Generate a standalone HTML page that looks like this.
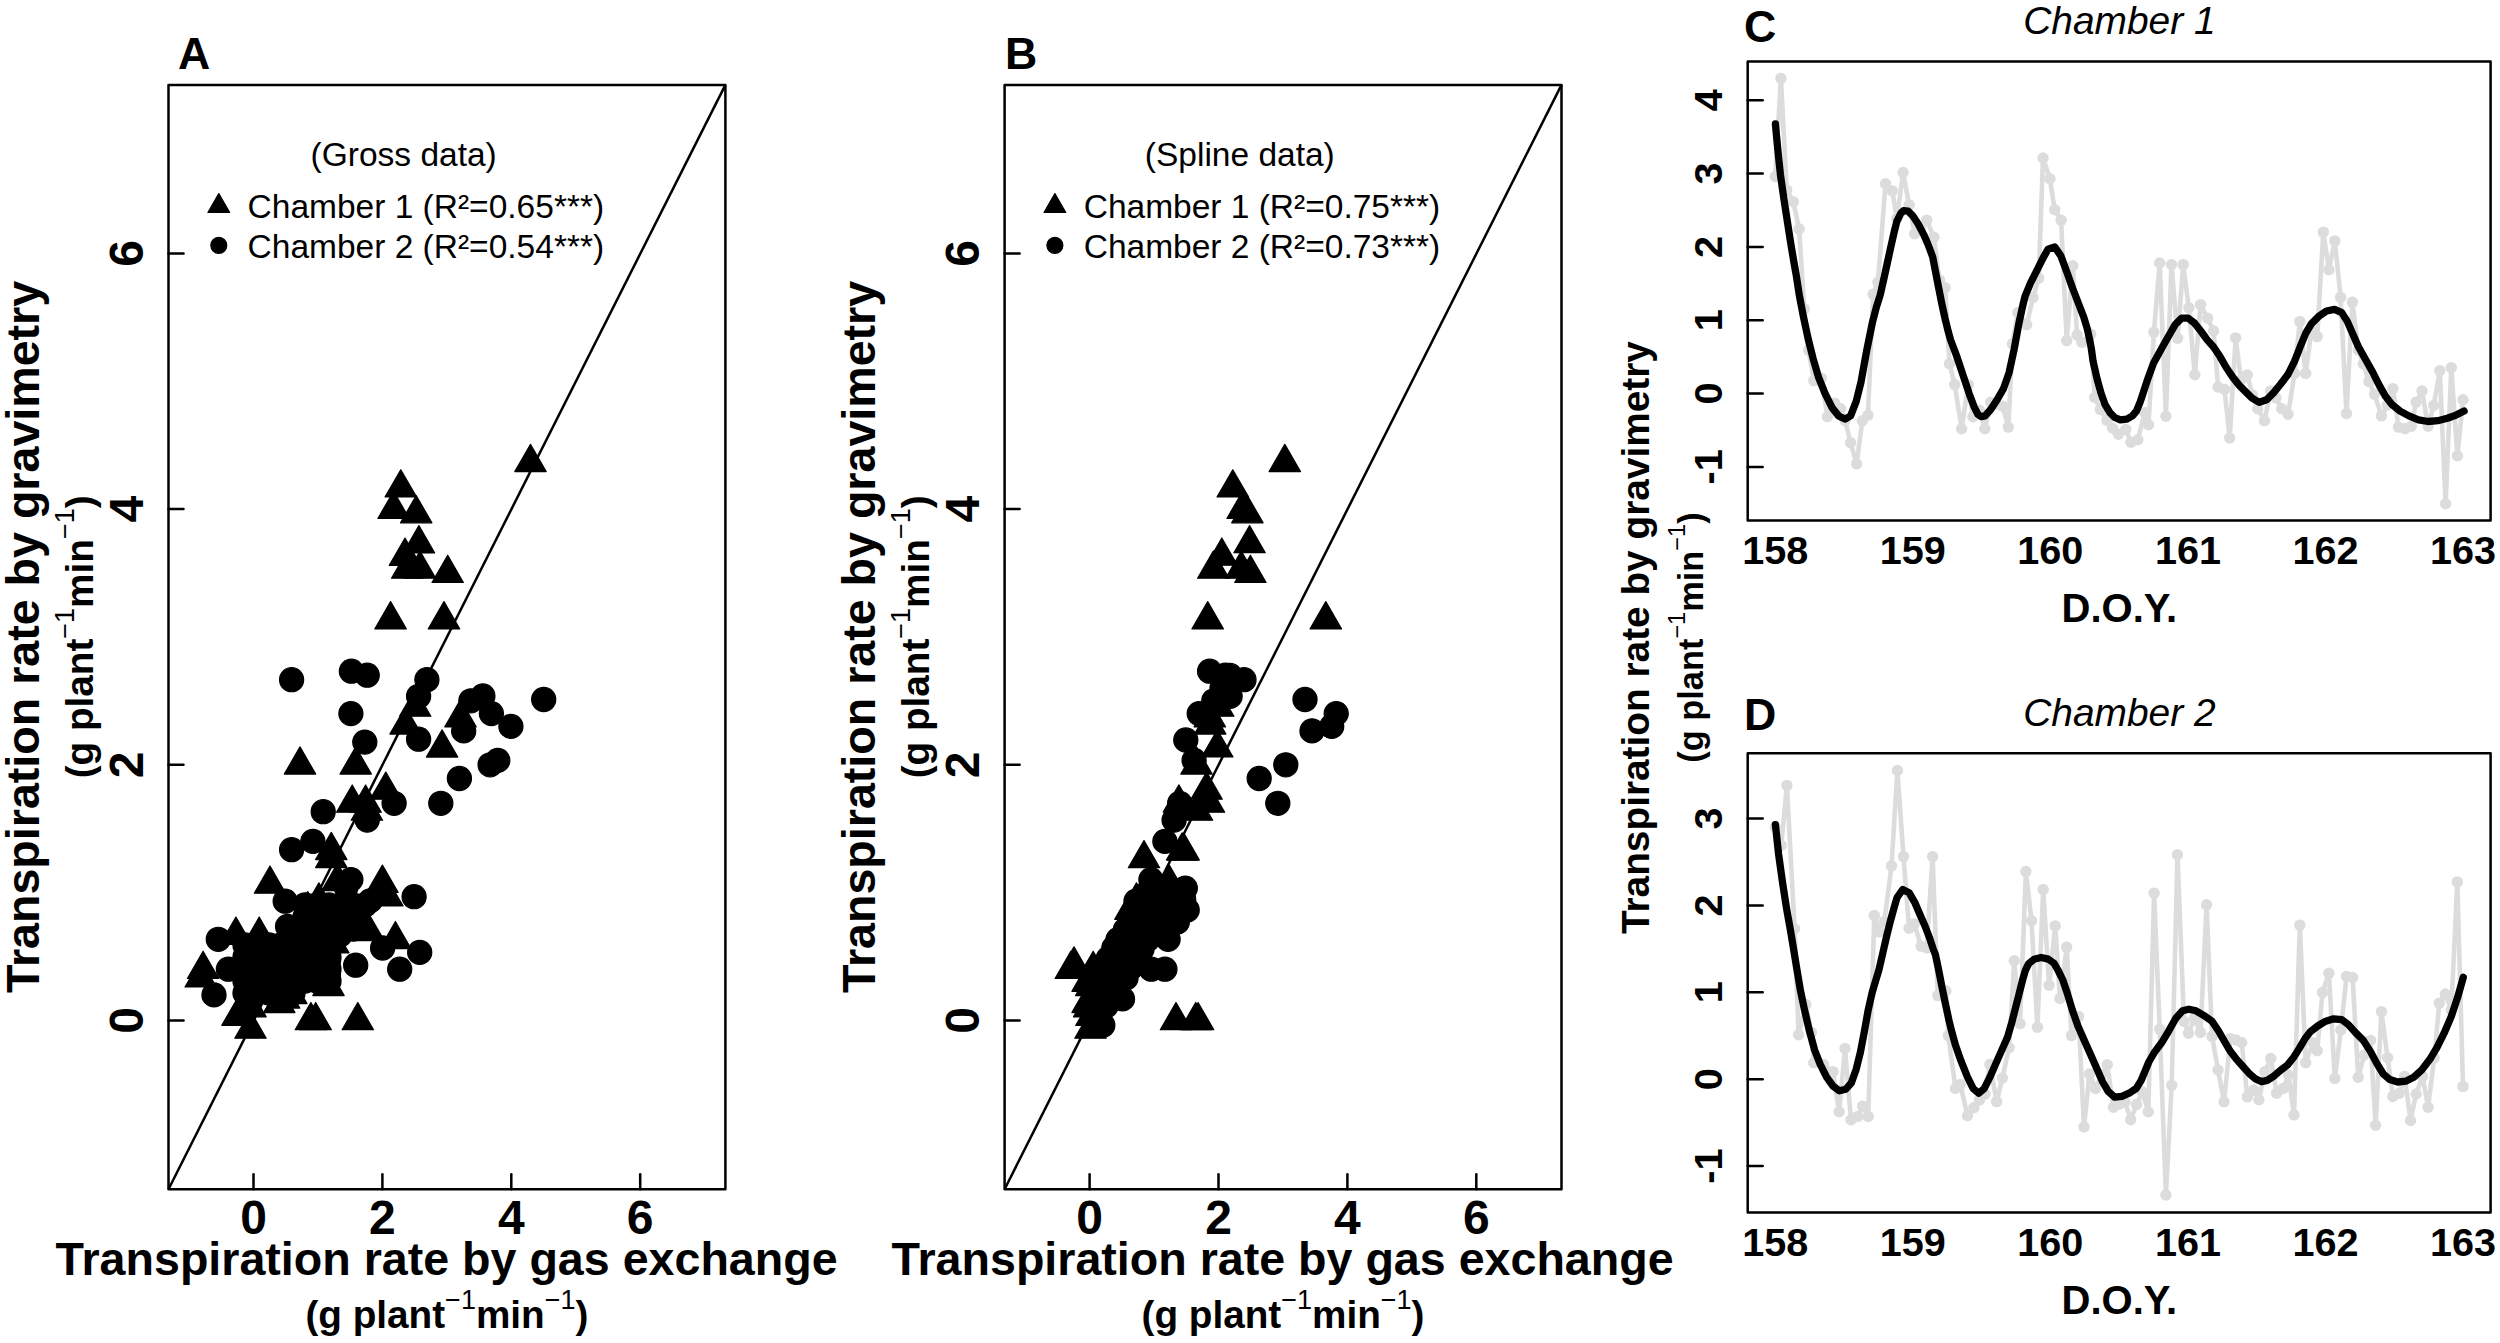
<!DOCTYPE html>
<html lang="en"><head><meta charset="utf-8"><title>Transpiration rate: gas exchange vs gravimetry</title>
<style>
html,body{margin:0;padding:0;background:#fff;}
body{width:2500px;height:1343px;overflow:hidden;}
svg{display:block;}
text{font-family:"Liberation Sans", sans-serif;fill:#000;}
.b{font-weight:bold;}
.sup{font-weight:normal;}
.pl{font-size:44.7px;}
.ax1{font-size:48px;}
.ax2{font-size:39.6px;}
.t1{font-size:46.6px;}
.doy{font-size:40px;}
.t2{font-size:38.7px;}
.t3{font-size:38.8px;}
.t4{font-size:34.4px;}
.lg{font-size:33.5px;}
.it{font-size:38.9px;font-style:italic;}
.fr{fill:none;stroke:#000;stroke-width:2.5;stroke-linejoin:round;}
.tk{stroke:#000;stroke-width:2.5;stroke-linecap:round;}
.ln{stroke:#000;stroke-width:2.5;stroke-linecap:butt;}
.pts{fill:#000;stroke:#000;stroke-width:1.2;stroke-linejoin:round;}
.gl{fill:none;stroke:#dcdcdc;stroke-width:4.6;stroke-linejoin:round;stroke-linecap:round;}
.gp{fill:#dcdcdc;}
.sp{fill:none;stroke:#000;stroke-width:7.3;stroke-linejoin:round;stroke-linecap:round;}
</style></head><body>
<svg width="2500" height="1343" viewBox="0 0 2500 1343">
<rect x="0" y="0" width="2500" height="1343" fill="#fff"/>
<g class="panel">
<g class="pts">
<circle cx="245" cy="945" r="12.05"/>
<circle cx="257" cy="945" r="12.05"/>
<circle cx="269" cy="945" r="12.05"/>
<circle cx="281" cy="945" r="12.05"/>
<circle cx="293" cy="945" r="12.05"/>
<circle cx="305" cy="945" r="12.05"/>
<circle cx="317" cy="945" r="12.05"/>
<circle cx="329" cy="945" r="12.05"/>
<circle cx="245" cy="957" r="12.05"/>
<circle cx="257" cy="957" r="12.05"/>
<circle cx="269" cy="957" r="12.05"/>
<circle cx="281" cy="957" r="12.05"/>
<circle cx="293" cy="957" r="12.05"/>
<circle cx="305" cy="957" r="12.05"/>
<circle cx="317" cy="957" r="12.05"/>
<circle cx="329" cy="957" r="12.05"/>
<circle cx="245" cy="969" r="12.05"/>
<circle cx="257" cy="969" r="12.05"/>
<circle cx="269" cy="969" r="12.05"/>
<circle cx="281" cy="969" r="12.05"/>
<circle cx="293" cy="969" r="12.05"/>
<circle cx="305" cy="969" r="12.05"/>
<circle cx="317" cy="969" r="12.05"/>
<circle cx="329" cy="969" r="12.05"/>
<circle cx="245" cy="981" r="12.05"/>
<circle cx="257" cy="981" r="12.05"/>
<circle cx="269" cy="981" r="12.05"/>
<circle cx="281" cy="981" r="12.05"/>
<circle cx="293" cy="981" r="12.05"/>
<circle cx="305" cy="981" r="12.05"/>
<circle cx="317" cy="981" r="12.05"/>
<circle cx="329" cy="981" r="12.05"/>
<circle cx="245" cy="993" r="12.05"/>
<circle cx="257" cy="993" r="12.05"/>
<circle cx="269" cy="993" r="12.05"/>
<circle cx="281" cy="993" r="12.05"/>
<circle cx="293" cy="993" r="12.05"/>
<circle cx="305" cy="905" r="12.05"/>
<circle cx="317" cy="905" r="12.05"/>
<circle cx="329" cy="905" r="12.05"/>
<circle cx="341" cy="905" r="12.05"/>
<circle cx="353" cy="905" r="12.05"/>
<circle cx="365" cy="905" r="12.05"/>
<circle cx="305" cy="917" r="12.05"/>
<circle cx="317" cy="917" r="12.05"/>
<circle cx="329" cy="917" r="12.05"/>
<circle cx="341" cy="917" r="12.05"/>
<circle cx="353" cy="917" r="12.05"/>
<circle cx="305" cy="929" r="12.05"/>
<circle cx="317" cy="929" r="12.05"/>
<circle cx="329" cy="929" r="12.05"/>
<circle cx="341" cy="929" r="12.05"/>
<circle cx="353" cy="929" r="12.05"/>
<circle cx="292" cy="935" r="12.05"/>
<circle cx="304" cy="935" r="12.05"/>
<circle cx="316" cy="935" r="12.05"/>
<circle cx="328" cy="935" r="12.05"/>
<circle cx="340" cy="935" r="12.05"/>
<circle cx="291.6" cy="679.7" r="12.05"/>
<circle cx="351.4" cy="671.2" r="12.05"/>
<circle cx="367.2" cy="675.2" r="12.05"/>
<circle cx="426.9" cy="679.7" r="12.05"/>
<circle cx="418.6" cy="696.3" r="12.05"/>
<circle cx="350.9" cy="713.6" r="12.05"/>
<circle cx="470.9" cy="700.8" r="12.05"/>
<circle cx="482.9" cy="696" r="12.05"/>
<circle cx="491.4" cy="713.6" r="12.05"/>
<circle cx="543.7" cy="699.5" r="12.05"/>
<circle cx="510.9" cy="726.4" r="12.05"/>
<circle cx="463.7" cy="730.9" r="12.05"/>
<circle cx="418.6" cy="739.2" r="12.05"/>
<circle cx="364.8" cy="742.1" r="12.05"/>
<circle cx="497.8" cy="760.4" r="12.05"/>
<circle cx="490.1" cy="764.8" r="12.05"/>
<circle cx="459.4" cy="778.5" r="12.05"/>
<circle cx="440.8" cy="803.3" r="12.05"/>
<circle cx="394.1" cy="803.3" r="12.05"/>
<circle cx="323.2" cy="811.7" r="12.05"/>
<circle cx="367.2" cy="820.1" r="12.05"/>
<circle cx="312.9" cy="841.4" r="12.05"/>
<circle cx="291.6" cy="849.7" r="12.05"/>
<circle cx="350.9" cy="879.6" r="12.05"/>
<circle cx="346" cy="886.8" r="12.05"/>
<circle cx="285.2" cy="901.2" r="12.05"/>
<circle cx="414.1" cy="896.7" r="12.05"/>
<circle cx="370.1" cy="900.9" r="12.05"/>
<circle cx="287.6" cy="926.5" r="12.05"/>
<circle cx="218.3" cy="939.3" r="12.05"/>
<circle cx="382.6" cy="948" r="12.05"/>
<circle cx="419.7" cy="952.4" r="12.05"/>
<circle cx="355.7" cy="965.2" r="12.05"/>
<circle cx="399.7" cy="969.2" r="12.05"/>
<circle cx="228.4" cy="969.2" r="12.05"/>
<circle cx="214" cy="994.9" r="12.05"/>
<circle cx="328.5" cy="960.4" r="12.05"/>
<circle cx="328.5" cy="974" r="12.05"/>
<polygon points="530.5,444.4 546.2,471.6 514.8,471.6"/>
<polygon points="400.8,469.7 416.5,496.9 385.1,496.9"/>
<polygon points="393.6,491.2 409.3,518.5 377.9,518.5"/>
<polygon points="416.2,495.6 431.9,522.8 400.5,522.8"/>
<polygon points="418.9,525.6 434.6,552.9 403.2,552.9"/>
<polygon points="405,538.1 420.7,565.4 389.3,565.4"/>
<polygon points="407.2,551 422.9,578.2 391.5,578.2"/>
<polygon points="420,551 435.7,578.2 404.3,578.2"/>
<polygon points="447.7,555.2 463.4,582.5 432,582.5"/>
<polygon points="390.6,601.6 406.3,628.9 374.9,628.9"/>
<polygon points="444,601.6 459.7,628.9 428.3,628.9"/>
<polygon points="415.2,689 430.9,716.2 399.5,716.2"/>
<polygon points="405.6,706.9 421.3,734.1 389.9,734.1"/>
<polygon points="460.5,699.6 476.2,726.9 444.8,726.9"/>
<polygon points="442.1,729.9 457.8,757.1 426.4,757.1"/>
<polygon points="300,746.9 315.7,774.1 284.3,774.1"/>
<polygon points="355.7,746.9 371.4,774.1 340,774.1"/>
<polygon points="385.8,772 401.5,799.2 370.1,799.2"/>
<polygon points="352.2,785 367.9,812.2 336.5,812.2"/>
<polygon points="365.6,785 381.3,812.2 349.9,812.2"/>
<polygon points="366.9,793 382.6,820.2 351.2,820.2"/>
<polygon points="331.3,832.4 347,859.6 315.6,859.6"/>
<polygon points="270,866 285.7,893.2 254.3,893.2"/>
<polygon points="382.4,865.1 398.1,892.4 366.7,892.4"/>
<polygon points="387.4,878.8 403.1,906 371.7,906"/>
<polygon points="395.4,921.5 411.1,948.7 379.7,948.7"/>
<polygon points="235.9,917.1 251.6,944.4 220.2,944.4"/>
<polygon points="259.2,917.1 274.9,944.4 243.5,944.4"/>
<polygon points="203.1,951.2 218.8,978.5 187.4,978.5"/>
<polygon points="200.7,959.8 216.4,987 185,987"/>
<polygon points="357.8,1002.5 373.5,1029.7 342.1,1029.7"/>
<polygon points="310.9,1002.5 326.6,1029.7 295.2,1029.7"/>
<polygon points="315.7,1002.5 331.4,1029.7 300,1029.7"/>
<polygon points="328.5,968.4 344.2,995.6 312.8,995.6"/>
<polygon points="250.5,1010.9 266.2,1038.2 234.8,1038.2"/>
<polygon points="237.5,998.1 253.2,1025.4 221.8,1025.4"/>
<polygon points="250.5,989.6 266.2,1016.9 234.8,1016.9"/>
<polygon points="279.3,985.4 295,1012.6 263.6,1012.6"/>
<polygon points="284.1,980.9 299.8,1008.1 268.4,1008.1"/>
<polygon points="291.3,976.4 307,1003.6 275.6,1003.6"/>
<polygon points="292.9,959.8 308.6,987 277.2,987"/>
<polygon points="333.3,925.6 349,952.9 317.6,952.9"/>
<polygon points="368.5,913.4 384.2,940.6 352.8,940.6"/>
<polygon points="361.6,908.9 377.3,936.1 345.9,936.1"/>
<polygon points="331.3,840.4 347,867.6 315.6,867.6"/>
<polygon points="318.9,882.8 334.6,910 303.2,910"/>
<polygon points="307.7,891.6 323.4,918.8 292,918.8"/>
<polygon points="349,898.8 364.7,926 333.3,926"/>
<polygon points="337.5,863.4 353.2,890.6 321.8,890.6"/>
</g>
<line class="ln" x1="168.5" y1="1189.2" x2="725.4" y2="84.9"/>
<rect class="fr" x="168.5" y="84.9" width="556.9" height="1104.3"/>
<line class="tk" x1="253.5" y1="1189.2" x2="253.5" y2="1174.2"/>
<line class="tk" x1="168.5" y1="1020.5" x2="183.5" y2="1020.5"/>
<text class="b ax1" x="253.5" y="1233.6" text-anchor="middle">0</text>
<text class="b ax1" transform="translate(142.8,1020.5) rotate(-90)" text-anchor="middle">0</text>
<line class="tk" x1="382.4" y1="1189.2" x2="382.4" y2="1174.2"/>
<line class="tk" x1="168.5" y1="764.8" x2="183.5" y2="764.8"/>
<text class="b ax1" x="382.4" y="1233.6" text-anchor="middle">2</text>
<text class="b ax1" transform="translate(142.8,764.8) rotate(-90)" text-anchor="middle">2</text>
<line class="tk" x1="511.3" y1="1189.2" x2="511.3" y2="1174.2"/>
<line class="tk" x1="168.5" y1="509.1" x2="183.5" y2="509.1"/>
<text class="b ax1" x="511.3" y="1233.6" text-anchor="middle">4</text>
<text class="b ax1" transform="translate(142.8,509.1) rotate(-90)" text-anchor="middle">4</text>
<line class="tk" x1="640.2" y1="1189.2" x2="640.2" y2="1174.2"/>
<line class="tk" x1="168.5" y1="253.4" x2="183.5" y2="253.4"/>
<text class="b ax1" x="640.2" y="1233.6" text-anchor="middle">6</text>
<text class="b ax1" transform="translate(142.8,253.4) rotate(-90)" text-anchor="middle">6</text>
<text class="b t1" x="446.6" y="1274.9" text-anchor="middle">Transpiration rate by gas exchange</text>
<text class="b t2" x="446.9" y="1327.8" text-anchor="middle">(g plant<tspan class="sup" font-size="27" dy="-19">−1</tspan><tspan dy="19">min</tspan><tspan class="sup" font-size="27" dy="-19">−1</tspan><tspan dy="19">)</tspan></text>
<text class="b t1" transform="translate(39.3,636.9) rotate(-90)" text-anchor="middle">Transpiration rate by gravimetry</text>
<text class="b t2" transform="translate(92.5,636.9) rotate(-90)" text-anchor="middle">(g plant<tspan class="sup" font-size="27" dy="-19">−1</tspan><tspan dy="19">min</tspan><tspan class="sup" font-size="27" dy="-19">−1</tspan><tspan dy="19">)</tspan></text>
<text class="b pl" x="178" y="68.8">A</text>
<text class="lg" x="403.7" y="165.6" text-anchor="middle">(Gross data)</text>
<polygon class="pts" points="218.8,193.6 229.7,212.5 207.9,212.5"/>
<circle class="pts" cx="218.8" cy="245.3" r="8.0"/>
<text class="lg" x="247.6" y="217.7">Chamber 1 (R²=0.65***)</text>
<text class="lg" x="247.6" y="257.6">Chamber 2 (R²=0.54***)</text>
</g>
<g class="panel">
<g class="pts">
<circle cx="1092" cy="1006" r="12.05"/>
<circle cx="1106" cy="1006" r="12.05"/>
<circle cx="1097.7" cy="996.5" r="12.05"/>
<circle cx="1111.7" cy="996.5" r="12.05"/>
<circle cx="1103.3" cy="987" r="12.05"/>
<circle cx="1117.3" cy="987" r="12.05"/>
<circle cx="1109" cy="977.5" r="12.05"/>
<circle cx="1123" cy="977.5" r="12.05"/>
<circle cx="1102.7" cy="968" r="12.05"/>
<circle cx="1116.7" cy="968" r="12.05"/>
<circle cx="1130.7" cy="968" r="12.05"/>
<circle cx="1108.3" cy="958.5" r="12.05"/>
<circle cx="1122.3" cy="958.5" r="12.05"/>
<circle cx="1136.3" cy="958.5" r="12.05"/>
<circle cx="1114" cy="949" r="12.05"/>
<circle cx="1128" cy="949" r="12.05"/>
<circle cx="1142" cy="949" r="12.05"/>
<circle cx="1119.7" cy="939.5" r="12.05"/>
<circle cx="1133.7" cy="939.5" r="12.05"/>
<circle cx="1147.7" cy="939.5" r="12.05"/>
<circle cx="1125.3" cy="930" r="12.05"/>
<circle cx="1139.3" cy="930" r="12.05"/>
<circle cx="1153.3" cy="930" r="12.05"/>
<circle cx="1131" cy="920.5" r="12.05"/>
<circle cx="1145" cy="920.5" r="12.05"/>
<circle cx="1159" cy="920.5" r="12.05"/>
<circle cx="1136.7" cy="911" r="12.05"/>
<circle cx="1150.7" cy="911" r="12.05"/>
<circle cx="1164.7" cy="911" r="12.05"/>
<circle cx="1142.3" cy="901.5" r="12.05"/>
<circle cx="1156.3" cy="901.5" r="12.05"/>
<circle cx="1170.3" cy="901.5" r="12.05"/>
<circle cx="1148" cy="892" r="12.05"/>
<circle cx="1162" cy="892" r="12.05"/>
<circle cx="1176" cy="892" r="12.05"/>
<circle cx="1209.6" cy="671.2" r="12.05"/>
<circle cx="1225.3" cy="675.2" r="12.05"/>
<circle cx="1230" cy="675.5" r="12.05"/>
<circle cx="1244" cy="679.7" r="12.05"/>
<circle cx="1230.1" cy="696.3" r="12.05"/>
<circle cx="1213.8" cy="700.8" r="12.05"/>
<circle cx="1199.2" cy="713.6" r="12.05"/>
<circle cx="1222" cy="688" r="12.05"/>
<circle cx="1185.8" cy="740" r="12.05"/>
<circle cx="1194.1" cy="760.4" r="12.05"/>
<circle cx="1305" cy="699.5" r="12.05"/>
<circle cx="1336.2" cy="713.6" r="12.05"/>
<circle cx="1331.7" cy="726.4" r="12.05"/>
<circle cx="1312" cy="730.9" r="12.05"/>
<circle cx="1285.8" cy="764.8" r="12.05"/>
<circle cx="1259.2" cy="778.5" r="12.05"/>
<circle cx="1277.8" cy="803.3" r="12.05"/>
<circle cx="1179.7" cy="803.3" r="12.05"/>
<circle cx="1174.1" cy="820.1" r="12.05"/>
<circle cx="1164.9" cy="841.4" r="12.05"/>
<circle cx="1185.3" cy="888.1" r="12.05"/>
<circle cx="1150.9" cy="879.6" r="12.05"/>
<circle cx="1183.7" cy="899.6" r="12.05"/>
<circle cx="1187.2" cy="910" r="12.05"/>
<circle cx="1177.3" cy="922" r="12.05"/>
<circle cx="1168.1" cy="939.3" r="12.05"/>
<circle cx="1136" cy="901.2" r="12.05"/>
<circle cx="1164.9" cy="969.2" r="12.05"/>
<circle cx="1151.3" cy="969.2" r="12.05"/>
<circle cx="1122.5" cy="998.9" r="12.05"/>
<circle cx="1102.8" cy="1025.3" r="12.05"/>
<circle cx="1118" cy="939.6" r="12.05"/>
<circle cx="1114" cy="947.6" r="12.05"/>
<circle cx="1126" cy="978" r="12.05"/>
<polygon points="1284.8,444.4 1300.5,471.6 1269.1,471.6"/>
<polygon points="1232.8,469.7 1248.5,496.9 1217.1,496.9"/>
<polygon points="1242.6,491.2 1258.3,518.5 1226.9,518.5"/>
<polygon points="1247.4,495.6 1263.1,522.8 1231.7,522.8"/>
<polygon points="1249.6,525.5 1265.3,552.7 1233.9,552.7"/>
<polygon points="1221.8,538 1237.5,565.2 1206.1,565.2"/>
<polygon points="1213.3,551 1229,578.2 1197.6,578.2"/>
<polygon points="1241.3,551 1257,578.2 1225.6,578.2"/>
<polygon points="1250.4,555.2 1266.1,582.5 1234.7,582.5"/>
<polygon points="1207.7,601.6 1223.4,628.9 1192,628.9"/>
<polygon points="1325.8,601.6 1341.5,628.9 1310.1,628.9"/>
<polygon points="1218.2,689 1233.9,716.2 1202.5,716.2"/>
<polygon points="1209.8,699.6 1225.5,726.9 1194.1,726.9"/>
<polygon points="1210.2,706.9 1225.9,734.1 1194.5,734.1"/>
<polygon points="1217.3,729.8 1233,757 1201.6,757"/>
<polygon points="1196.5,746.9 1212.2,774.1 1180.8,774.1"/>
<polygon points="1206.6,772 1222.3,799.2 1190.9,799.2"/>
<polygon points="1209,785 1224.7,812.2 1193.3,812.2"/>
<polygon points="1197,793 1212.7,820.2 1181.3,820.2"/>
<polygon points="1178.9,784.9 1194.6,812.1 1163.2,812.1"/>
<polygon points="1144,840.5 1159.7,867.7 1128.3,867.7"/>
<polygon points="1182.1,832.9 1197.8,860.1 1166.4,860.1"/>
<polygon points="1183.7,832.9 1199.4,860.1 1168,860.1"/>
<polygon points="1169.3,865.1 1185,892.4 1153.6,892.4"/>
<polygon points="1136.5,882.8 1152.2,910 1120.8,910"/>
<polygon points="1130.4,892.1 1146.1,919.3 1114.7,919.3"/>
<polygon points="1074,946.8 1089.7,974 1058.3,974"/>
<polygon points="1070.8,951.2 1086.5,978.5 1055.1,978.5"/>
<polygon points="1093.2,951.2 1108.9,978.5 1077.5,978.5"/>
<polygon points="1087.6,964.1 1103.3,991.3 1071.9,991.3"/>
<polygon points="1091.2,968.4 1106.9,995.6 1075.5,995.6"/>
<polygon points="1087.6,985.4 1103.3,1012.6 1071.9,1012.6"/>
<polygon points="1089.2,989.6 1104.9,1016.9 1073.5,1016.9"/>
<polygon points="1091.5,998.1 1107.2,1025.4 1075.8,1025.4"/>
<polygon points="1090.5,1010.9 1106.2,1038.2 1074.8,1038.2"/>
<polygon points="1176,1002.5 1191.7,1029.7 1160.3,1029.7"/>
<polygon points="1195.7,1002.5 1211.4,1029.7 1180,1029.7"/>
<polygon points="1198.1,1002.5 1213.8,1029.7 1182.4,1029.7"/>
</g>
<line class="ln" x1="1004.6" y1="1189.2" x2="1561.5" y2="84.9"/>
<rect class="fr" x="1004.6" y="84.9" width="556.9" height="1104.3"/>
<line class="tk" x1="1089.6" y1="1189.2" x2="1089.6" y2="1174.2"/>
<line class="tk" x1="1004.6" y1="1020.5" x2="1019.6" y2="1020.5"/>
<text class="b ax1" x="1089.6" y="1233.6" text-anchor="middle">0</text>
<text class="b ax1" transform="translate(978.9,1020.5) rotate(-90)" text-anchor="middle">0</text>
<line class="tk" x1="1218.5" y1="1189.2" x2="1218.5" y2="1174.2"/>
<line class="tk" x1="1004.6" y1="764.8" x2="1019.6" y2="764.8"/>
<text class="b ax1" x="1218.5" y="1233.6" text-anchor="middle">2</text>
<text class="b ax1" transform="translate(978.9,764.8) rotate(-90)" text-anchor="middle">2</text>
<line class="tk" x1="1347.4" y1="1189.2" x2="1347.4" y2="1174.2"/>
<line class="tk" x1="1004.6" y1="509.1" x2="1019.6" y2="509.1"/>
<text class="b ax1" x="1347.4" y="1233.6" text-anchor="middle">4</text>
<text class="b ax1" transform="translate(978.9,509.1) rotate(-90)" text-anchor="middle">4</text>
<line class="tk" x1="1476.3" y1="1189.2" x2="1476.3" y2="1174.2"/>
<line class="tk" x1="1004.6" y1="253.4" x2="1019.6" y2="253.4"/>
<text class="b ax1" x="1476.3" y="1233.6" text-anchor="middle">6</text>
<text class="b ax1" transform="translate(978.9,253.4) rotate(-90)" text-anchor="middle">6</text>
<text class="b t1" x="1282.6" y="1274.9" text-anchor="middle">Transpiration rate by gas exchange</text>
<text class="b t2" x="1283" y="1327.8" text-anchor="middle">(g plant<tspan class="sup" font-size="27" dy="-19">−1</tspan><tspan dy="19">min</tspan><tspan class="sup" font-size="27" dy="-19">−1</tspan><tspan dy="19">)</tspan></text>
<text class="b t1" transform="translate(875.4,636.9) rotate(-90)" text-anchor="middle">Transpiration rate by gravimetry</text>
<text class="b t2" transform="translate(928.6,636.9) rotate(-90)" text-anchor="middle">(g plant<tspan class="sup" font-size="27" dy="-19">−1</tspan><tspan dy="19">min</tspan><tspan class="sup" font-size="27" dy="-19">−1</tspan><tspan dy="19">)</tspan></text>
<text class="b pl" x="1004.9" y="68.8">B</text>
<text class="lg" x="1239.8" y="165.6" text-anchor="middle">(Spline data)</text>
<polygon class="pts" points="1054.9,193.6 1065.8,212.5 1044,212.5"/>
<circle class="pts" cx="1054.9" cy="245.3" r="8.0"/>
<text class="lg" x="1083.7" y="217.7">Chamber 1 (R²=0.75***)</text>
<text class="lg" x="1083.7" y="257.6">Chamber 2 (R²=0.73***)</text>
</g>
<g class="panel">
<polyline class="gl" points="1775.2,176.5 1780.9,78.4 1786.7,190 1793.3,201.7 1799.1,228.9 1804.3,308.9 1808.6,350.2 1813.8,380.6 1821.4,378.2 1827.4,416.7 1834.6,403.1 1840.6,408.7 1845,420.5 1850.6,442.7 1856.6,463.9 1862.3,420.7 1868,415.1 1873.1,294.2 1877.9,282.2 1885.5,183.7 1892.3,190.9 1896.9,218.5 1903.1,172.5 1909.1,204.9 1914.7,233.7 1920.7,228 1926.7,220.1 1933.9,237.3 1939.5,280 1945.1,287.8 1949.5,363.8 1954.7,384.6 1961.6,428.7 1968.3,384.6 1972.9,416.7 1979.5,410.3 1984.8,428.7 1990.7,402.3 1996.7,404 2002.7,406.3 2008.3,427.1 2012.5,343.8 2017.9,312.6 2026.7,324.6 2033.1,297.4 2038.7,278.2 2043,158 2049.9,178.8 2054.7,209.7 2061.1,220.1 2066.7,340.6 2072.8,265.7 2077.1,335 2081.9,342.2 2090.7,334.2 2094.7,397.4 2100.3,409.5 2107,420.3 2112.5,428 2118.5,434.3 2125.8,429.5 2131,442.3 2137.8,439.7 2144.8,412.7 2148.5,424.7 2153.9,332.1 2159.7,263 2165.9,416.2 2171.5,264.6 2177.6,338.2 2183.2,264.6 2188.8,307.8 2194.8,374.7 2200.5,304.6 2207.6,318.2 2213.6,331 2218.1,387 2224.5,389.4 2229.7,437.9 2235.6,337.9 2241,380 2247.3,375 2252.5,395 2257.7,408.7 2264.5,420.7 2270.5,391 2276,398 2281.7,408.7 2288.1,414.3 2294.5,373.4 2299.8,321.4 2305.7,373.4 2311.5,330 2317.2,336.6 2323.3,232.1 2328.9,269.7 2334.8,240.9 2340.6,297.4 2346.5,413.5 2352.4,302.2 2358.3,350 2363.3,363.8 2368.9,381.4 2374.5,394.2 2381.4,415.9 2387.2,405 2392.9,388.6 2398.5,427.1 2404.9,428.7 2411.3,426.3 2416.1,402.3 2422,391 2428.1,426.3 2433.7,405.5 2439.8,370.6 2445.6,503.8 2451.3,367.8 2457.4,455.9 2463,399.8"/>
<g class="gp">
<circle cx="1775.2" cy="176.5" r="5.7"/>
<circle cx="1780.9" cy="78.4" r="5.7"/>
<circle cx="1786.7" cy="190" r="5.7"/>
<circle cx="1793.3" cy="201.7" r="5.7"/>
<circle cx="1799.1" cy="228.9" r="5.7"/>
<circle cx="1804.3" cy="308.9" r="5.7"/>
<circle cx="1808.6" cy="350.2" r="5.7"/>
<circle cx="1813.8" cy="380.6" r="5.7"/>
<circle cx="1821.4" cy="378.2" r="5.7"/>
<circle cx="1827.4" cy="416.7" r="5.7"/>
<circle cx="1834.6" cy="403.1" r="5.7"/>
<circle cx="1840.6" cy="408.7" r="5.7"/>
<circle cx="1845" cy="420.5" r="5.7"/>
<circle cx="1850.6" cy="442.7" r="5.7"/>
<circle cx="1856.6" cy="463.9" r="5.7"/>
<circle cx="1862.3" cy="420.7" r="5.7"/>
<circle cx="1868" cy="415.1" r="5.7"/>
<circle cx="1873.1" cy="294.2" r="5.7"/>
<circle cx="1877.9" cy="282.2" r="5.7"/>
<circle cx="1885.5" cy="183.7" r="5.7"/>
<circle cx="1892.3" cy="190.9" r="5.7"/>
<circle cx="1896.9" cy="218.5" r="5.7"/>
<circle cx="1903.1" cy="172.5" r="5.7"/>
<circle cx="1909.1" cy="204.9" r="5.7"/>
<circle cx="1914.7" cy="233.7" r="5.7"/>
<circle cx="1920.7" cy="228" r="5.7"/>
<circle cx="1926.7" cy="220.1" r="5.7"/>
<circle cx="1933.9" cy="237.3" r="5.7"/>
<circle cx="1939.5" cy="280" r="5.7"/>
<circle cx="1945.1" cy="287.8" r="5.7"/>
<circle cx="1949.5" cy="363.8" r="5.7"/>
<circle cx="1954.7" cy="384.6" r="5.7"/>
<circle cx="1961.6" cy="428.7" r="5.7"/>
<circle cx="1968.3" cy="384.6" r="5.7"/>
<circle cx="1972.9" cy="416.7" r="5.7"/>
<circle cx="1979.5" cy="410.3" r="5.7"/>
<circle cx="1984.8" cy="428.7" r="5.7"/>
<circle cx="1990.7" cy="402.3" r="5.7"/>
<circle cx="1996.7" cy="404" r="5.7"/>
<circle cx="2002.7" cy="406.3" r="5.7"/>
<circle cx="2008.3" cy="427.1" r="5.7"/>
<circle cx="2012.5" cy="343.8" r="5.7"/>
<circle cx="2017.9" cy="312.6" r="5.7"/>
<circle cx="2026.7" cy="324.6" r="5.7"/>
<circle cx="2033.1" cy="297.4" r="5.7"/>
<circle cx="2038.7" cy="278.2" r="5.7"/>
<circle cx="2043" cy="158" r="5.7"/>
<circle cx="2049.9" cy="178.8" r="5.7"/>
<circle cx="2054.7" cy="209.7" r="5.7"/>
<circle cx="2061.1" cy="220.1" r="5.7"/>
<circle cx="2066.7" cy="340.6" r="5.7"/>
<circle cx="2072.8" cy="265.7" r="5.7"/>
<circle cx="2077.1" cy="335" r="5.7"/>
<circle cx="2081.9" cy="342.2" r="5.7"/>
<circle cx="2090.7" cy="334.2" r="5.7"/>
<circle cx="2094.7" cy="397.4" r="5.7"/>
<circle cx="2100.3" cy="409.5" r="5.7"/>
<circle cx="2107" cy="420.3" r="5.7"/>
<circle cx="2112.5" cy="428" r="5.7"/>
<circle cx="2118.5" cy="434.3" r="5.7"/>
<circle cx="2125.8" cy="429.5" r="5.7"/>
<circle cx="2131" cy="442.3" r="5.7"/>
<circle cx="2137.8" cy="439.7" r="5.7"/>
<circle cx="2144.8" cy="412.7" r="5.7"/>
<circle cx="2148.5" cy="424.7" r="5.7"/>
<circle cx="2153.9" cy="332.1" r="5.7"/>
<circle cx="2159.7" cy="263" r="5.7"/>
<circle cx="2165.9" cy="416.2" r="5.7"/>
<circle cx="2171.5" cy="264.6" r="5.7"/>
<circle cx="2177.6" cy="338.2" r="5.7"/>
<circle cx="2183.2" cy="264.6" r="5.7"/>
<circle cx="2188.8" cy="307.8" r="5.7"/>
<circle cx="2194.8" cy="374.7" r="5.7"/>
<circle cx="2200.5" cy="304.6" r="5.7"/>
<circle cx="2207.6" cy="318.2" r="5.7"/>
<circle cx="2213.6" cy="331" r="5.7"/>
<circle cx="2218.1" cy="387" r="5.7"/>
<circle cx="2224.5" cy="389.4" r="5.7"/>
<circle cx="2229.7" cy="437.9" r="5.7"/>
<circle cx="2235.6" cy="337.9" r="5.7"/>
<circle cx="2241" cy="380" r="5.7"/>
<circle cx="2247.3" cy="375" r="5.7"/>
<circle cx="2252.5" cy="395" r="5.7"/>
<circle cx="2257.7" cy="408.7" r="5.7"/>
<circle cx="2264.5" cy="420.7" r="5.7"/>
<circle cx="2270.5" cy="391" r="5.7"/>
<circle cx="2276" cy="398" r="5.7"/>
<circle cx="2281.7" cy="408.7" r="5.7"/>
<circle cx="2288.1" cy="414.3" r="5.7"/>
<circle cx="2294.5" cy="373.4" r="5.7"/>
<circle cx="2299.8" cy="321.4" r="5.7"/>
<circle cx="2305.7" cy="373.4" r="5.7"/>
<circle cx="2311.5" cy="330" r="5.7"/>
<circle cx="2317.2" cy="336.6" r="5.7"/>
<circle cx="2323.3" cy="232.1" r="5.7"/>
<circle cx="2328.9" cy="269.7" r="5.7"/>
<circle cx="2334.8" cy="240.9" r="5.7"/>
<circle cx="2340.6" cy="297.4" r="5.7"/>
<circle cx="2346.5" cy="413.5" r="5.7"/>
<circle cx="2352.4" cy="302.2" r="5.7"/>
<circle cx="2358.3" cy="350" r="5.7"/>
<circle cx="2363.3" cy="363.8" r="5.7"/>
<circle cx="2368.9" cy="381.4" r="5.7"/>
<circle cx="2374.5" cy="394.2" r="5.7"/>
<circle cx="2381.4" cy="415.9" r="5.7"/>
<circle cx="2387.2" cy="405" r="5.7"/>
<circle cx="2392.9" cy="388.6" r="5.7"/>
<circle cx="2398.5" cy="427.1" r="5.7"/>
<circle cx="2404.9" cy="428.7" r="5.7"/>
<circle cx="2411.3" cy="426.3" r="5.7"/>
<circle cx="2416.1" cy="402.3" r="5.7"/>
<circle cx="2422" cy="391" r="5.7"/>
<circle cx="2428.1" cy="426.3" r="5.7"/>
<circle cx="2433.7" cy="405.5" r="5.7"/>
<circle cx="2439.8" cy="370.6" r="5.7"/>
<circle cx="2445.6" cy="503.8" r="5.7"/>
<circle cx="2451.3" cy="367.8" r="5.7"/>
<circle cx="2457.4" cy="455.9" r="5.7"/>
<circle cx="2463" cy="399.8" r="5.7"/>
</g>
<polyline class="sp" points="1775.4,124 1777.8,149.6 1780.5,175.2 1784.2,200.9 1787.4,221.7 1790.6,242.5 1793.8,261.7 1796.2,275 1799.4,295.8 1803.4,316.6 1808.2,339 1813,358.2 1818.6,377.4 1825,393.4 1832.2,407.9 1838.6,415.9 1845,419.1 1850.6,415.9 1856.2,401.4 1861,382.2 1866.8,350 1872.3,322.9 1876.3,307.3 1880.2,295 1883.5,280.4 1887.4,262.6 1890.8,246.9 1894.1,232.4 1896.9,221.2 1900.8,213.4 1903.6,210.6 1908.1,211.2 1912.6,215.6 1918.2,224 1923.7,234.6 1928.2,244.7 1932.7,257 1935.5,271.5 1938.3,286 1941.6,302.8 1945,318.4 1948.3,331.8 1950.6,340 1956.3,355 1962.7,374.2 1969.1,393.4 1973.9,406.3 1977.9,414.3 1981.1,416.7 1985.1,415.9 1990.7,409.5 1997.1,399.8 2003.5,388.6 2009.1,372.6 2014,350 2019,322.9 2022.9,305 2025.1,296.1 2030.7,282.7 2036.9,270.4 2043,258.1 2048,249.2 2054.7,246.9 2060.9,255.9 2067,272.6 2072.6,288.3 2078.2,302.8 2083.8,317.3 2087.2,328.5 2089.4,338.5 2091.4,349 2093.1,361.4 2097.1,379 2101.1,393.4 2105.1,404.7 2109.9,412.7 2114.7,417.5 2120.4,419.9 2126.8,419.1 2132.4,415.9 2136.4,411.1 2140.4,401.4 2147.2,380.6 2153.6,363 2161.6,348.6 2168.8,335.8 2175.2,324.6 2181.6,318.2 2188,318.2 2194.4,323 2200.8,331 2207.2,339.8 2213.6,347 2220,356.6 2226.4,367.8 2232.9,377.4 2239.3,385.4 2245.7,391.8 2252.1,398.2 2259.3,402.3 2266.5,399.8 2273.7,392.6 2280.9,383.8 2288.1,374.2 2294.5,361.4 2300.1,347 2305.7,333.4 2311.3,323.8 2318.5,316.6 2326.5,311 2334.5,309.4 2341.7,312.6 2347.3,321.4 2352.9,334.2 2358.5,347 2365.7,359.8 2372.9,372.6 2379.3,385.4 2385.7,396.6 2392.1,404.7 2400.1,411.1 2408.9,415.9 2418.5,419.9 2428.1,421.5 2437.7,420.7 2447.3,418.3 2456.1,415.1 2464.1,411.1"/>
<rect class="fr" x="1747.7" y="61.5" width="742.9" height="459"/>
<line class="tk" x1="1747.7" y1="466.9" x2="1762.7" y2="466.9"/>
<text class="b ax2" transform="translate(1721.8,466.9) rotate(-90)" text-anchor="middle">-1</text>
<line class="tk" x1="1747.7" y1="393.6" x2="1762.7" y2="393.6"/>
<text class="b ax2" transform="translate(1721.8,393.6) rotate(-90)" text-anchor="middle">0</text>
<line class="tk" x1="1747.7" y1="320.3" x2="1762.7" y2="320.3"/>
<text class="b ax2" transform="translate(1721.8,320.3) rotate(-90)" text-anchor="middle">1</text>
<line class="tk" x1="1747.7" y1="247" x2="1762.7" y2="247"/>
<text class="b ax2" transform="translate(1721.8,247) rotate(-90)" text-anchor="middle">2</text>
<line class="tk" x1="1747.7" y1="173.6" x2="1762.7" y2="173.6"/>
<text class="b ax2" transform="translate(1721.8,173.6) rotate(-90)" text-anchor="middle">3</text>
<line class="tk" x1="1747.7" y1="100.3" x2="1762.7" y2="100.3"/>
<text class="b ax2" transform="translate(1721.8,100.3) rotate(-90)" text-anchor="middle">4</text>
<text class="b ax2" x="1775.2" y="564" text-anchor="middle">158</text>
<text class="b ax2" x="1912.8" y="564" text-anchor="middle">159</text>
<text class="b ax2" x="2050.3" y="564" text-anchor="middle">160</text>
<text class="b ax2" x="2187.9" y="564" text-anchor="middle">161</text>
<text class="b ax2" x="2325.5" y="564" text-anchor="middle">162</text>
<text class="b ax2" x="2463.1" y="564" text-anchor="middle">163</text>
<text class="b doy" x="2119.4" y="622.1" text-anchor="middle">D.O.Y.</text>
<text class="it" x="2119.4" y="34" text-anchor="middle">Chamber 1</text>
<text class="b pl" x="1744" y="41.6">C</text>
</g>
<g class="panel">
<polyline class="gl" points="1775.2,827 1781.2,845.4 1786.9,785.4 1794.6,928.7 1798.6,1034.8 1805.8,1004.4 1811.4,1032.4 1813.8,1062.8 1823.4,1064.4 1833,1071.6 1839.1,1111.7 1845,1048.4 1851,1119.7 1857.8,1116.5 1862.6,1106.1 1868.2,1116.5 1874.3,915.5 1879.1,931.9 1884.3,921.5 1891.5,865.9 1897.4,770.5 1903.5,856.6 1909.1,928.2 1914.3,923.9 1921.1,946.3 1926.7,947.9 1932.6,856.6 1937.8,995.6 1945.9,990.8 1948.3,1035.6 1955.5,1088.4 1960.3,1084.4 1967.5,1115.7 1973.9,1107.7 1979.5,1100 1985.1,1094 1989.9,1064.4 1996.6,1101.6 2002.4,1078 2009.1,1047.6 2014.2,960.7 2020,1023.6 2025.9,871.5 2031.5,920.7 2037.4,1027.3 2043.2,889.5 2049.1,985.2 2055.2,925.9 2060,998.5 2066.7,947.1 2071.5,1035.6 2078.5,1016.4 2084,1126.9 2089.5,1074 2095.5,1088.4 2101.5,1075 2107.3,1064.8 2113.4,1107.3 2119.5,1104 2125,1102 2130.7,1119.7 2136.6,1104.5 2142.4,1092 2148.3,1111.7 2154.1,893.1 2159.7,1029.2 2165.9,1195 2171.7,1085.2 2177.5,854.7 2184,1021.2 2188.5,1033.2 2194.4,1018 2200.5,1032.4 2206.6,904.7 2212,1036.4 2218,1070 2224,1101.7 2230.5,1038.8 2236,1040 2241.7,1042.5 2247.3,1096.9 2253.7,1090 2258.9,1099.7 2264.9,1071.6 2270.8,1058.5 2276.6,1093.2 2283.3,1088.4 2288.6,1075 2294,1114.9 2299.8,925.1 2305.7,1062.8 2312.9,1042.8 2317.2,1050.8 2322.5,992.4 2328.9,973.2 2334.8,1078.4 2340.9,1030 2346.5,976.4 2352.6,977.5 2358.2,1077.2 2364.3,1055 2370.5,1040.4 2375.6,1125.3 2381.4,1011.6 2387.6,1057.7 2392.9,1096.5 2399.3,1093.2 2404.6,1076.4 2410.5,1120.5 2416.1,1094 2422.5,1076.4 2428.1,1107.2 2434.2,1058 2439.3,1003.1 2445.4,994 2451.3,1010 2457.3,881.9 2463,1086.4"/>
<g class="gp">
<circle cx="1775.2" cy="827" r="5.7"/>
<circle cx="1781.2" cy="845.4" r="5.7"/>
<circle cx="1786.9" cy="785.4" r="5.7"/>
<circle cx="1794.6" cy="928.7" r="5.7"/>
<circle cx="1798.6" cy="1034.8" r="5.7"/>
<circle cx="1805.8" cy="1004.4" r="5.7"/>
<circle cx="1811.4" cy="1032.4" r="5.7"/>
<circle cx="1813.8" cy="1062.8" r="5.7"/>
<circle cx="1823.4" cy="1064.4" r="5.7"/>
<circle cx="1833" cy="1071.6" r="5.7"/>
<circle cx="1839.1" cy="1111.7" r="5.7"/>
<circle cx="1845" cy="1048.4" r="5.7"/>
<circle cx="1851" cy="1119.7" r="5.7"/>
<circle cx="1857.8" cy="1116.5" r="5.7"/>
<circle cx="1862.6" cy="1106.1" r="5.7"/>
<circle cx="1868.2" cy="1116.5" r="5.7"/>
<circle cx="1874.3" cy="915.5" r="5.7"/>
<circle cx="1879.1" cy="931.9" r="5.7"/>
<circle cx="1884.3" cy="921.5" r="5.7"/>
<circle cx="1891.5" cy="865.9" r="5.7"/>
<circle cx="1897.4" cy="770.5" r="5.7"/>
<circle cx="1903.5" cy="856.6" r="5.7"/>
<circle cx="1909.1" cy="928.2" r="5.7"/>
<circle cx="1914.3" cy="923.9" r="5.7"/>
<circle cx="1921.1" cy="946.3" r="5.7"/>
<circle cx="1926.7" cy="947.9" r="5.7"/>
<circle cx="1932.6" cy="856.6" r="5.7"/>
<circle cx="1937.8" cy="995.6" r="5.7"/>
<circle cx="1945.9" cy="990.8" r="5.7"/>
<circle cx="1948.3" cy="1035.6" r="5.7"/>
<circle cx="1955.5" cy="1088.4" r="5.7"/>
<circle cx="1960.3" cy="1084.4" r="5.7"/>
<circle cx="1967.5" cy="1115.7" r="5.7"/>
<circle cx="1973.9" cy="1107.7" r="5.7"/>
<circle cx="1979.5" cy="1100" r="5.7"/>
<circle cx="1985.1" cy="1094" r="5.7"/>
<circle cx="1989.9" cy="1064.4" r="5.7"/>
<circle cx="1996.6" cy="1101.6" r="5.7"/>
<circle cx="2002.4" cy="1078" r="5.7"/>
<circle cx="2009.1" cy="1047.6" r="5.7"/>
<circle cx="2014.2" cy="960.7" r="5.7"/>
<circle cx="2020" cy="1023.6" r="5.7"/>
<circle cx="2025.9" cy="871.5" r="5.7"/>
<circle cx="2031.5" cy="920.7" r="5.7"/>
<circle cx="2037.4" cy="1027.3" r="5.7"/>
<circle cx="2043.2" cy="889.5" r="5.7"/>
<circle cx="2049.1" cy="985.2" r="5.7"/>
<circle cx="2055.2" cy="925.9" r="5.7"/>
<circle cx="2060" cy="998.5" r="5.7"/>
<circle cx="2066.7" cy="947.1" r="5.7"/>
<circle cx="2071.5" cy="1035.6" r="5.7"/>
<circle cx="2078.5" cy="1016.4" r="5.7"/>
<circle cx="2084" cy="1126.9" r="5.7"/>
<circle cx="2089.5" cy="1074" r="5.7"/>
<circle cx="2095.5" cy="1088.4" r="5.7"/>
<circle cx="2101.5" cy="1075" r="5.7"/>
<circle cx="2107.3" cy="1064.8" r="5.7"/>
<circle cx="2113.4" cy="1107.3" r="5.7"/>
<circle cx="2119.5" cy="1104" r="5.7"/>
<circle cx="2125" cy="1102" r="5.7"/>
<circle cx="2130.7" cy="1119.7" r="5.7"/>
<circle cx="2136.6" cy="1104.5" r="5.7"/>
<circle cx="2142.4" cy="1092" r="5.7"/>
<circle cx="2148.3" cy="1111.7" r="5.7"/>
<circle cx="2154.1" cy="893.1" r="5.7"/>
<circle cx="2159.7" cy="1029.2" r="5.7"/>
<circle cx="2165.9" cy="1195" r="5.7"/>
<circle cx="2171.7" cy="1085.2" r="5.7"/>
<circle cx="2177.5" cy="854.7" r="5.7"/>
<circle cx="2184" cy="1021.2" r="5.7"/>
<circle cx="2188.5" cy="1033.2" r="5.7"/>
<circle cx="2194.4" cy="1018" r="5.7"/>
<circle cx="2200.5" cy="1032.4" r="5.7"/>
<circle cx="2206.6" cy="904.7" r="5.7"/>
<circle cx="2212" cy="1036.4" r="5.7"/>
<circle cx="2218" cy="1070" r="5.7"/>
<circle cx="2224" cy="1101.7" r="5.7"/>
<circle cx="2230.5" cy="1038.8" r="5.7"/>
<circle cx="2236" cy="1040" r="5.7"/>
<circle cx="2241.7" cy="1042.5" r="5.7"/>
<circle cx="2247.3" cy="1096.9" r="5.7"/>
<circle cx="2253.7" cy="1090" r="5.7"/>
<circle cx="2258.9" cy="1099.7" r="5.7"/>
<circle cx="2264.9" cy="1071.6" r="5.7"/>
<circle cx="2270.8" cy="1058.5" r="5.7"/>
<circle cx="2276.6" cy="1093.2" r="5.7"/>
<circle cx="2283.3" cy="1088.4" r="5.7"/>
<circle cx="2288.6" cy="1075" r="5.7"/>
<circle cx="2294" cy="1114.9" r="5.7"/>
<circle cx="2299.8" cy="925.1" r="5.7"/>
<circle cx="2305.7" cy="1062.8" r="5.7"/>
<circle cx="2312.9" cy="1042.8" r="5.7"/>
<circle cx="2317.2" cy="1050.8" r="5.7"/>
<circle cx="2322.5" cy="992.4" r="5.7"/>
<circle cx="2328.9" cy="973.2" r="5.7"/>
<circle cx="2334.8" cy="1078.4" r="5.7"/>
<circle cx="2340.9" cy="1030" r="5.7"/>
<circle cx="2346.5" cy="976.4" r="5.7"/>
<circle cx="2352.6" cy="977.5" r="5.7"/>
<circle cx="2358.2" cy="1077.2" r="5.7"/>
<circle cx="2364.3" cy="1055" r="5.7"/>
<circle cx="2370.5" cy="1040.4" r="5.7"/>
<circle cx="2375.6" cy="1125.3" r="5.7"/>
<circle cx="2381.4" cy="1011.6" r="5.7"/>
<circle cx="2387.6" cy="1057.7" r="5.7"/>
<circle cx="2392.9" cy="1096.5" r="5.7"/>
<circle cx="2399.3" cy="1093.2" r="5.7"/>
<circle cx="2404.6" cy="1076.4" r="5.7"/>
<circle cx="2410.5" cy="1120.5" r="5.7"/>
<circle cx="2416.1" cy="1094" r="5.7"/>
<circle cx="2422.5" cy="1076.4" r="5.7"/>
<circle cx="2428.1" cy="1107.2" r="5.7"/>
<circle cx="2434.2" cy="1058" r="5.7"/>
<circle cx="2439.3" cy="1003.1" r="5.7"/>
<circle cx="2445.4" cy="994" r="5.7"/>
<circle cx="2451.3" cy="1010" r="5.7"/>
<circle cx="2457.3" cy="881.9" r="5.7"/>
<circle cx="2463" cy="1086.4" r="5.7"/>
</g>
<polyline class="sp" points="1775.4,824.6 1778.6,854.2 1782.6,883.1 1786.6,908.7 1790.6,931.1 1793.8,950.3 1797,970 1800.2,989.2 1804.2,1008.4 1809,1029.2 1814.6,1050 1820.2,1064.4 1826.6,1077.2 1833,1086 1839.4,1090.8 1845.8,1089.2 1851.4,1082.8 1856.2,1069.2 1860.2,1053.2 1864.2,1032.4 1868.2,1010 1872.2,992.4 1875.5,981.2 1878.9,970 1882.7,953.5 1886.7,935.9 1890.7,919.9 1894.7,905.5 1897.1,897.5 1902.7,889.5 1909.1,892.7 1914.7,902.3 1919.5,913.5 1925.1,926.3 1929.1,936.7 1933.1,948.7 1935.5,954.9 1938.3,968.3 1941.6,985.1 1945,1001.8 1948.9,1020 1951.3,1030 1955.5,1045.2 1961.1,1061.2 1967.5,1077.2 1973.1,1088.4 1978.7,1093.2 1984.3,1088.4 1989.9,1077.2 1995.5,1064.4 2001.1,1051.6 2007.5,1037.2 2011.8,1022.5 2015.2,1009.1 2019.2,993.4 2022.6,980 2025.5,970 2028.8,963.5 2034,959.3 2041.1,957.5 2048.3,959.1 2053.9,963.1 2057.9,970 2062.7,979.6 2067.5,994 2072.3,1010 2077.9,1026 2084.3,1040.4 2090.7,1054.8 2097.1,1069.2 2102.7,1082 2108.3,1091.6 2114.7,1097.2 2121.9,1096.4 2129.1,1093.2 2136.3,1088.4 2141.2,1080.4 2148.8,1062 2154.4,1052.4 2161.6,1042.8 2168.8,1030.8 2176,1018 2182.4,1010.8 2188.8,1009.2 2196,1010.8 2204,1015.6 2212,1021.2 2218.4,1030.8 2224.8,1042 2230.5,1051.6 2236.1,1058.8 2242.5,1066 2248.9,1073.2 2255.3,1078.8 2261.7,1081.6 2267.3,1080.4 2274.5,1075.6 2280.9,1070 2287.3,1065.2 2293.7,1057.2 2299.3,1048.4 2304.9,1038.8 2310.5,1031.6 2317.7,1026 2325.7,1021.2 2333.7,1018.8 2341.7,1019.6 2348.1,1024.4 2355.3,1032.4 2363.3,1040.4 2370.5,1051.6 2376.9,1063.6 2383.3,1074 2389.7,1079.6 2397.7,1082 2405.7,1081.2 2413.7,1077.2 2421.7,1070 2429.7,1059.6 2436.9,1047.6 2444.1,1033.2 2451.3,1016.4 2457.7,997.2 2463.3,977.2"/>
<rect class="fr" x="1747.7" y="753.3" width="742.9" height="459.2"/>
<line class="tk" x1="1747.7" y1="1166.1" x2="1762.7" y2="1166.1"/>
<text class="b ax2" transform="translate(1721.8,1166.1) rotate(-90)" text-anchor="middle">-1</text>
<line class="tk" x1="1747.7" y1="1079.2" x2="1762.7" y2="1079.2"/>
<text class="b ax2" transform="translate(1721.8,1079.2) rotate(-90)" text-anchor="middle">0</text>
<line class="tk" x1="1747.7" y1="992.3" x2="1762.7" y2="992.3"/>
<text class="b ax2" transform="translate(1721.8,992.3) rotate(-90)" text-anchor="middle">1</text>
<line class="tk" x1="1747.7" y1="905.4" x2="1762.7" y2="905.4"/>
<text class="b ax2" transform="translate(1721.8,905.4) rotate(-90)" text-anchor="middle">2</text>
<line class="tk" x1="1747.7" y1="818.5" x2="1762.7" y2="818.5"/>
<text class="b ax2" transform="translate(1721.8,818.5) rotate(-90)" text-anchor="middle">3</text>
<text class="b ax2" x="1775.2" y="1256" text-anchor="middle">158</text>
<text class="b ax2" x="1912.8" y="1256" text-anchor="middle">159</text>
<text class="b ax2" x="2050.3" y="1256" text-anchor="middle">160</text>
<text class="b ax2" x="2187.9" y="1256" text-anchor="middle">161</text>
<text class="b ax2" x="2325.5" y="1256" text-anchor="middle">162</text>
<text class="b ax2" x="2463.1" y="1256" text-anchor="middle">163</text>
<text class="b doy" x="2119.4" y="1314.1" text-anchor="middle">D.O.Y.</text>
<text class="it" x="2119.4" y="726.4" text-anchor="middle">Chamber 2</text>
<text class="b pl" x="1744" y="729.6">D</text>
</g>
<text class="b t3" transform="translate(1649.4,637.6) rotate(-90)" text-anchor="middle">Transpiration rate by gravimetry</text>
<text class="b t4" transform="translate(1703.3,637.6) rotate(-90)" text-anchor="middle">(g plant<tspan class="sup" font-size="23.5" dy="-17.9">−1</tspan><tspan dy="17.9">min</tspan><tspan class="sup" font-size="23.5" dy="-17.9">−1</tspan><tspan dy="17.9">)</tspan></text>
</svg></body></html>
